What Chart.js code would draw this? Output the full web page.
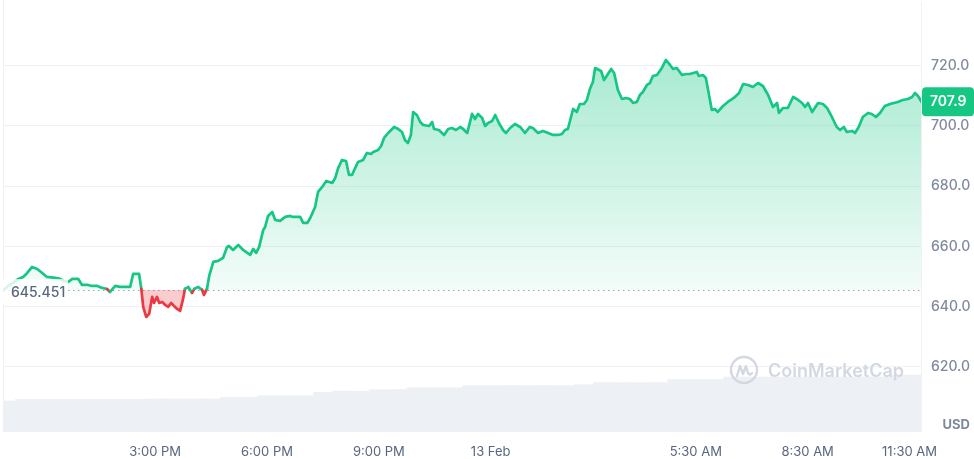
<!DOCTYPE html>
<html>
<head>
<meta charset="utf-8">
<title>Price chart</title>
<script src="https://cdn.jsdelivr.net/npm/chart.js@4.4.1/dist/chart.umd.min.js"></script>
<style>
  html, body { margin: 0; padding: 0; background: #fff; }
  #wrap { width: 974px; height: 459px; }
</style>
</head>
<body>
<div id="wrap"><canvas id="chart" width="974" height="459"></canvas></div>
<script>
// time in hours counted from 12 Feb 00:00 (24 = 13 Feb 00:00)
const priceHours = [
  10.93, 11.06, 11.19, 11.33, 11.46, 11.57, 11.70, 11.84, 11.97, 12.10,
  12.32, 12.45, 12.56, 12.67, 12.78, 12.94, 13.04, 13.20, 13.31, 13.45,
  13.58, 13.71, 13.79, 13.93, 14.06, 14.20, 14.33, 14.41, 14.57, 14.63,
  14.68, 14.76, 14.84, 14.92, 14.97, 15.05, 15.11, 15.19, 15.27, 15.35,
  15.43, 15.48, 15.59, 15.67, 15.75, 15.80, 15.89, 15.99, 16.05, 16.15,
  16.26, 16.31, 16.39, 16.45, 16.56, 16.69, 16.82, 16.93, 16.98, 17.09,
  17.23, 17.36, 17.55, 17.63, 17.71, 17.79, 17.90, 17.95, 18.03, 18.14,
  18.22, 18.35, 18.49, 18.62, 18.70, 18.89, 18.97, 19.08, 19.16, 19.29,
  19.37, 19.48, 19.59, 19.67, 19.75, 19.83, 19.91, 20.01, 20.12, 20.20,
  20.28, 20.34, 20.44, 20.58, 20.68, 20.79, 20.85, 20.98, 21.06, 21.14,
  21.25, 21.41, 21.52, 21.62, 21.70, 21.78, 21.86, 21.92, 22.02, 22.11,
  22.19, 22.35, 22.43, 22.48, 22.61, 22.75, 22.86, 22.96, 23.07, 23.18,
  23.26, 23.37, 23.50, 23.58, 23.66, 23.77, 23.85, 23.93, 24.04, 24.12,
  24.22, 24.33, 24.41, 24.52, 24.65, 24.79, 24.92, 25.05, 25.13, 25.27,
  25.40, 25.54, 25.67, 25.81, 25.91, 25.99, 26.07, 26.21, 26.31, 26.39,
  26.50, 26.58, 26.66, 26.74, 26.80, 26.96, 27.04, 27.23, 27.31, 27.41,
  27.52, 27.63, 27.73, 27.82, 27.92, 28.00, 28.08, 28.19, 28.27, 28.35,
  28.46, 28.59, 28.70, 28.81, 28.89, 28.99, 29.13, 29.24, 29.34, 29.53,
  29.58, 29.69, 29.77, 29.93, 30.01, 30.09, 30.23, 30.36, 30.52, 30.66,
  30.77, 30.90, 31.03, 31.17, 31.30, 31.44, 31.57, 31.68, 31.73, 31.84,
  31.97, 32.11, 32.21, 32.35, 32.43, 32.51, 32.62, 32.78, 32.91, 33.02,
  33.15, 33.28, 33.37, 33.47, 33.55, 33.69, 33.77, 33.87, 33.98, 34.12,
  34.22, 34.33, 34.44, 34.57, 34.71, 34.81, 34.92, 35.05, 35.19, 35.30,
  35.38, 35.46, 35.56
];
const prices = [
  645.45, 646.84, 647.84, 649.17, 649.83, 651.16, 653.15, 652.49, 651.16, 649.83,
  649.50, 649.17, 648.50, 648.17, 649.17, 649.17, 647.17, 647.17, 646.84, 646.84,
  646.18, 645.84, 644.85, 646.84, 646.51, 646.51, 646.51, 650.83, 650.83, 645.84,
  639.87, 636.54, 637.54, 643.19, 641.19, 643.19, 641.19, 641.53, 640.53, 639.87,
  641.19, 640.53, 639.20, 638.53, 642.52, 645.84, 646.51, 644.52, 645.84, 646.51,
  645.51, 643.85, 645.84, 650.16, 654.82, 655.15, 656.15, 659.80, 660.13, 658.80,
  660.47, 658.80, 657.14, 659.14, 657.81, 659.80, 665.45, 666.45, 670.10, 671.43,
  668.77, 668.44, 669.77, 670.10, 669.77, 669.77, 667.77, 667.77, 669.43, 673.09,
  678.07, 679.73, 681.73, 681.39, 681.06, 682.72, 686.05, 688.70, 688.37, 683.72,
  683.72, 685.38, 688.04, 688.70, 691.03, 690.70, 691.36, 692.03, 693.36, 696.01,
  697.67, 699.67, 699.00, 698.01, 695.35, 694.35, 697.01, 704.65, 703.65, 701.33,
  700.33, 700.00, 701.33, 699.00, 698.67, 697.01, 699.00, 699.33, 698.67, 699.67,
  699.00, 697.67, 704.01, 702.33, 704.01, 702.66, 700.00, 701.00, 701.66, 703.65,
  701.00, 698.67, 697.67, 699.33, 700.66, 699.67, 697.67, 699.67, 699.33, 697.67,
  698.34, 697.67, 697.01, 697.01, 697.34, 698.67, 699.00, 705.65, 704.65, 707.31,
  707.31, 708.64, 712.29, 714.62, 719.27, 718.27, 715.28, 718.94, 717.61, 711.96,
  708.97, 709.30, 708.97, 707.64, 707.97, 710.30, 711.30, 713.62, 714.28, 716.61,
  716.94, 719.27, 721.93, 720.27, 718.94, 719.27, 716.94, 717.27, 717.27, 717.94,
  716.61, 716.94, 715.95, 705.31, 705.65, 704.65, 706.64, 707.97, 709.30, 710.96,
  713.95, 713.62, 712.96, 714.28, 713.29, 710.30, 706.31, 707.64, 704.32, 705.98,
  705.98, 709.63, 708.97, 707.64, 706.31, 707.64, 704.65, 707.64, 707.31, 705.98,
  702.99, 699.67, 698.67, 699.67, 698.01, 698.34, 697.67, 699.67, 702.99, 704.32,
  703.99, 702.99, 704.32, 706.64, 707.31, 707.64, 707.97, 708.64, 708.97, 709.63,
  710.96, 709.97, 707.90
];
const openPrice = 645.451;
const lastPrice = 707.9;

// rolling 24h volume, millions USD, every 30 min
const volumeHours = [
  11.0, 11.5, 12.0, 12.5, 13.0, 13.5, 14.0, 14.5, 15.0, 15.5,
  16.0, 16.5, 17.0, 17.5, 18.0, 18.5, 19.0, 19.5, 20.0, 20.5,
  21.0, 21.5, 22.0, 22.5, 23.0, 23.5, 24.0, 24.5, 25.0, 25.5,
  26.0, 26.5, 27.0, 27.5, 28.0, 28.5, 29.0, 29.5, 30.0, 30.5,
  31.0, 31.5, 32.0, 32.5, 33.0, 33.5, 34.0, 34.5, 35.0, 35.5
];
const volumes = [
  155, 163, 163, 163, 163, 163, 163, 163, 165, 165,
  165, 165, 173, 173, 181, 181, 181, 198, 204, 204,
  212, 212, 221, 221, 221, 232, 232, 232, 232, 232,
  232, 237, 247, 247, 247, 247, 262, 262, 262, 275,
  275, 275, 275, 275, 275, 275, 275, 275, 285, 285
];

const priceTicks = [620, 640, 660, 680, 700, 720];
const timeTicks = [15, 18, 21, 24, 29.5, 32.5, 35.5];
const timeLabels = ['3:00 PM', '6:00 PM', '9:00 PM', '13 Feb', '5:30 AM', '8:30 AM', '11:30 AM'];

const GREEN = '#16c784';
const RED = '#ea3943';
const FONT = 'Inter, "Noto Sans", sans-serif';

// extra drawing: baseline, open price label, watermark, time labels, price tag
const decor = {
  id: 'decor',
  beforeDatasetsDraw(chart) {
    const { ctx, chartArea: a, scales: { y } } = chart;
    ctx.save();
    ctx.strokeStyle = '#eff2f5';
    ctx.lineWidth = 1;
    ctx.beginPath();
    ctx.moveTo(a.left + 0.5, 0);
    ctx.lineTo(a.left + 0.5, a.bottom);
    ctx.stroke();
    const by = Math.round(y.getPixelForValue(openPrice)) + 0.5;
    ctx.strokeStyle = '#9aa3b5';
    ctx.setLineDash([1.5, 3.5]);
    ctx.beginPath();
    ctx.moveTo(a.left, by);
    ctx.lineTo(a.right, by);
    ctx.stroke();
    ctx.restore();
  },
  afterDatasetsDraw(chart) {
    const { ctx, chartArea: a, scales: { y } } = chart;
    const by = y.getPixelForValue(openPrice);
    ctx.save();
    // open price label
    ctx.fillStyle = 'rgba(255,255,255,0.82)';
    ctx.fillRect(a.left, by - 11, 65, 24);
    ctx.fillStyle = '#58667e';
    ctx.font = '500 14px ' + FONT;
    ctx.textBaseline = 'middle';
    ctx.textAlign = 'left';
    ctx.fillText(openPrice.toString(), a.left + 8, by + 3);

    // watermark
    const cx = a.right - 177, cy = a.bottom - 62;
    ctx.strokeStyle = '#d3d8e1';
    ctx.lineWidth = 2.4;
    ctx.lineJoin = 'round';
    ctx.lineCap = 'round';
    ctx.beginPath();
    ctx.arc(cx, cy, 13, 0, Math.PI * 2);
    ctx.stroke();
    ctx.beginPath();
    ctx.moveTo(cx - 7, cy + 6);
    ctx.lineTo(cx - 4, cy - 4);
    ctx.lineTo(cx - 1, cy + 4);
    ctx.lineTo(cx + 2, cy - 4);
    ctx.lineTo(cx + 4, cy + 3);
    ctx.quadraticCurveTo(cx + 6, cy + 6, cx + 8, cy + 3);
    ctx.stroke();
    ctx.fillStyle = '#d3d8e1';
    ctx.font = '600 18px ' + FONT;
    ctx.textBaseline = 'alphabetic';
    ctx.fillText('CoinMarketCap', cx + 24, cy + 7);
    ctx.restore();
  },
  afterDraw(chart) {
    const { ctx, chartArea: a, scales: { x, y }, width } = chart;
    ctx.save();
    // time labels, last one kept inside the canvas
    ctx.font = '13px ' + FONT;
    ctx.fillStyle = '#58667e';
    ctx.textBaseline = 'middle';
    ctx.textAlign = 'center';
    timeTicks.forEach((t, i) => {
      const w = ctx.measureText(timeLabels[i]).width;
      let px = x.getPixelForValue(t);
      px = Math.min(px, a.right + 16 - w / 2);
      ctx.fillText(timeLabels[i], px, a.bottom + 20);
    });
    // currency
    ctx.font = '700 13px ' + FONT;
    ctx.fillStyle = '#808a9d';
    ctx.textAlign = 'right';
    ctx.fillText('USD', width - 4, a.bottom - 7);
    // last price tag
    const py = y.getPixelForValue(lastPrice);
    ctx.fillStyle = GREEN;
    ctx.beginPath();
    ctx.roundRect(a.right + 1, py - 15, width - a.right - 1, 29, 4);
    ctx.fill();
    ctx.fillStyle = '#fff';
    ctx.font = '600 14px ' + FONT;
    ctx.textAlign = 'left';
    ctx.fillText(lastPrice.toFixed(1), a.right + 9, py);
    ctx.restore();
  }
};

const ctx = document.getElementById('chart').getContext('2d');
const chart = new Chart(ctx, {
  data: {
    datasets: [
      {
        type: 'line',
        order: 0,
        data: priceHours.map((t, i) => ({ x: t, y: prices[i] })),
        borderColor: GREEN,
        borderWidth: 2.7,
        borderJoinStyle: 'round',
        borderCapStyle: 'round',
        pointRadius: 0,
        tension: 0,
        fill: { target: { value: openPrice }, above: 'rgba(22,199,132,0.2)', below: 'rgba(234,57,67,0.26)' },
        segment: {
          borderColor: c => ((c.p0.parsed.y + c.p1.parsed.y) / 2 < openPrice ? RED : GREEN)
        },
        yAxisID: 'y'
      },
      {
        type: 'bar',
        order: 1,
        data: volumeHours.map((t, i) => ({ x: t, y: volumes[i] })),
        backgroundColor: '#edf0f4',
        barPercentage: 1,
        categoryPercentage: 1,
        yAxisID: 'yVol'
      }
    ]
  },
  options: {
    responsive: false,
    animation: false,
    events: [],
    layout: { padding: { left: 3, top: 2, right: 0, bottom: 0 } },
    plugins: { legend: { display: false }, tooltip: { enabled: false } },
    scales: {
      x: {
        type: 'linear',
        offset: false,
        min: 10.92,
        max: 35.54,
        grid: { display: false },
        border: { display: false },
        ticks: { display: false },
        afterFit: s => { s.height = 27; s.paddingLeft = 0; s.paddingRight = 0; }
      },
      y: {
        position: 'right',
        min: 598.3,
        max: 741.2,
        afterBuildTicks: s => { s.ticks = priceTicks.map(v => ({ value: v })); },
        grid: { color: '#eff2f5', drawTicks: false },
        border: { display: true, color: '#eff2f5' },
        ticks: {
          padding: 10,
          color: '#808a9d',
          font: { family: FONT, size: 14, weight: '500' },
          callback: v => v.toFixed(1)
        },
        afterFit: s => { s.width = 53; s.paddingTop = 0; s.paddingBottom = 0; }
      },
      yVol: {
        display: false,
        min: 0,
        max: 2150
      }
    }
  },
  plugins: [decor]
});

// green fill fades from the top of the plot down to the opening price
const area = chart.chartArea;
const grad = ctx.createLinearGradient(0, area.top, 0, chart.scales.y.getPixelForValue(openPrice));
grad.addColorStop(0, 'rgba(22,199,132,0.45)');
grad.addColorStop(1, 'rgba(22,199,132,0.05)');
chart.data.datasets[0].fill.above = grad;
chart.update('none');
</script>
</body>
</html>
